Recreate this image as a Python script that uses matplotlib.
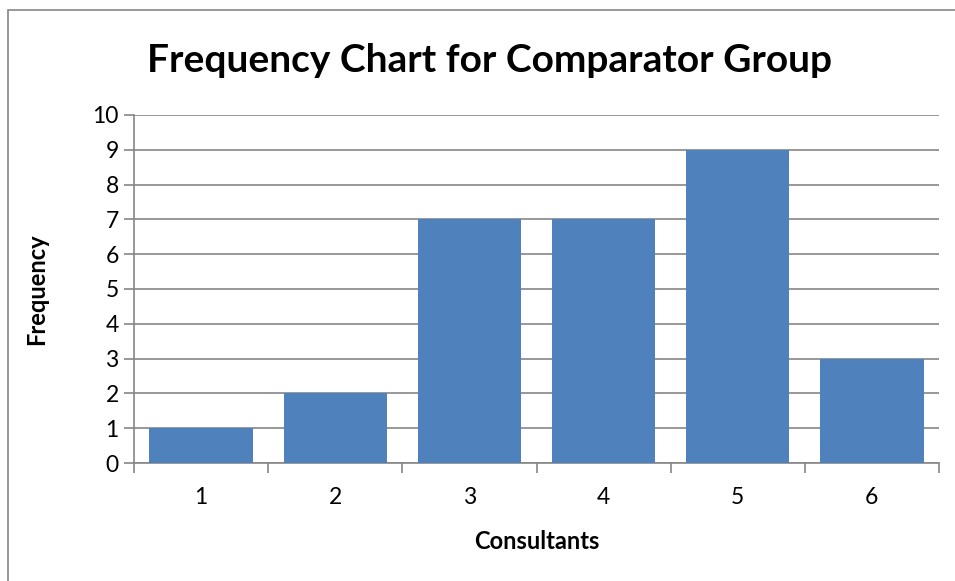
import matplotlib.pyplot as plt
from matplotlib.patches import Rectangle

# data
consultants = ["1", "2", "3", "4", "5", "6"]
frequency = [1, 2, 7, 7, 9, 3]
y_ticks = list(range(0, 11))

plt.rcParams['font.family'] = ['Lato', 'DejaVu Sans']

fig = plt.figure(figsize=(9.55, 5.81), dpi=100)
ax = fig.add_axes([134 / 955, 1 - 463 / 581, 805 / 955, 348 / 581])

# outer chart border
fig.patches.append(Rectangle((8 / 955, -0.05), 1.0, (581 - 10) / 581 + 0.05,
                             transform=fig.transFigure, fill=False,
                             edgecolor='#868686', linewidth=1.2))

x = list(range(len(consultants)))
ax.bar(x, frequency, width=0.77, color='#4F81BD', zorder=3)

ax.set_xlim(-0.5, len(consultants) - 0.5)
ax.set_ylim(0, 10)
ax.set_yticks(y_ticks)
ax.set_yticklabels([str(v) for v in y_ticks], fontsize=16.5)
ax.set_xticks(x)
ax.set_xticklabels(consultants, fontsize=16.5)
ax.tick_params(axis='x', which='major', length=0, pad=17)
ax.set_xticks([i - 0.5 for i in range(len(consultants) + 1)], minor=True)
ax.tick_params(axis='x', which='minor', length=7, color='#868686', width=1.2)
ax.tick_params(axis='y', length=7, color='#868686', width=1.2, pad=4)

ax.grid(axis='y', color='#868686', linewidth=1.2, zorder=0)
for side in ['top', 'right']:
    ax.spines[side].set_visible(False)
for side in ['left', 'bottom']:
    ax.spines[side].set_color('#868686')
    ax.spines[side].set_linewidth(1.2)

ax.set_xlabel("Consultants", fontsize=17, fontweight='bold', labelpad=16)
ax.set_ylabel("Frequency", fontsize=17, fontweight='bold', labelpad=32)
fig.text(489 / 955, 1 - 60 / 581, "Frequency Chart for Comparator Group",
         fontsize=28, fontweight='bold', ha='center', va='center')

fig.savefig("out.png", dpi=100)
